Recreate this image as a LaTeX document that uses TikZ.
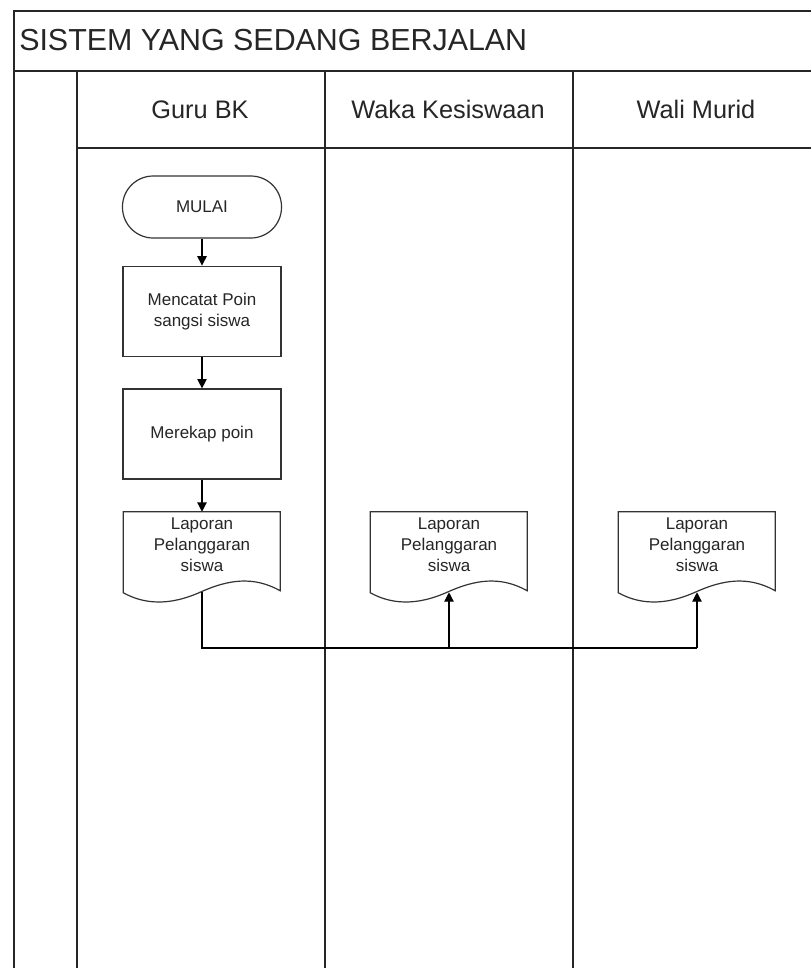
\documentclass[tikz,border=0pt]{standalone}
\usepackage{fontspec}
\setmainfont{Liberation Sans}
\usetikzlibrary{arrows.meta}
\newcommand\docshape[1]{%
  \draw[shapeline, shift={(#1.north west)}] (0,0) -- (157,0) -- (157,79)
    .. controls (130,64) and (105,68) .. (78,80)
    .. controls (45,95) and (20,92) .. (0,81) -- cycle;}
\begin{document}
\begin{tikzpicture}[x=0.75pt,y=-0.75pt,
  frame/.style={line width=1.3pt, draw=black!85},
  shapeline/.style={line width=0.9pt, draw=black!80},
  smalltxt/.style={font=\fontsize{12.75}{15.5}\selectfont, align=center, text=black!85},
  proc/.style={shapeline, rectangle, minimum width=118.5pt, minimum height=68pt, inner sep=0, smalltxt},
  term/.style={shapeline, rectangle, rounded corners=23pt, minimum width=119.25pt, minimum height=46.5pt, inner sep=0, smalltxt},
  docbox/.style={rectangle, minimum width=117.75pt, minimum height=60pt, inner sep=0},
  hdr/.style={font=\fontsize{19}{22}\selectfont, anchor=base, inner sep=0, text=black!85},
  conn/.style={line width=0.9pt, draw=black},
  arr/.style={conn, -{Triangle[length=7pt,width=7pt]}}
]
\useasboundingbox (0,0) rectangle (811,968);
\fill[white] (0,0) rectangle (811,968);

% frame
\draw[frame] (811,11) -- (14,11) -- (14,968);
\draw[frame] (14,71) -- (811,71);
\draw[frame] (77,148) -- (811,148);
\draw[frame] (77,71) -- (77,968);
\draw[frame] (325,71) -- (325,968);
\draw[frame] (573,71) -- (573,968);

% title and headers
\node[font=\fontsize{22.8}{27}\selectfont, anchor=base west, inner sep=0, text=black!85] (title) at (19,50) {SISTEM YANG SEDANG BERJALAN};
\node[hdr] (h1) at (200,118) {Guru BK};
\node[hdr] (h2) at (448,118) {Waka Kesiswaan};
\node[hdr] (h3) at (696,118) {Wali Murid};

% flow
\node[term] (mulai) at (202,207) {MULAI};
\node[proc] (p1) at (202,311.5) {Mencatat Poin\\sangsi siswa};
\node[proc, minimum height=67.5pt] (p2) at (202,434) {Merekap poin};

\node[docbox] (doc1) at (202,552) {};
\node[docbox] (doc2) at (449,552) {};
\node[docbox] (doc3) at (697,552) {};
\docshape{doc1}
\docshape{doc2}
\docshape{doc3}
\node[smalltxt] (t1) at ([yshift=5.5pt]doc1.center) {Laporan\\Pelanggaran\\siswa};
\node[smalltxt] (t2) at ([yshift=5.5pt]doc2.center) {Laporan\\Pelanggaran\\siswa};
\node[smalltxt] (t3) at ([yshift=5.5pt]doc3.center) {Laporan\\Pelanggaran\\siswa};

\draw[arr] (mulai.south) -- (p1.north);
\draw[arr] (p1.south) -- (p2.north);
\draw[arr] (p2.south) -- (doc1.north);

\coordinate (bus) at (0,648);
\draw[conn] (doc1.south) -- (doc1.south |- bus) -- (doc3.south |- bus);
\draw[arr] (doc2.south |- bus) -- (doc2.south);
\draw[arr] (doc3.south |- bus) -- (doc3.south);
\end{tikzpicture}
\end{document}
